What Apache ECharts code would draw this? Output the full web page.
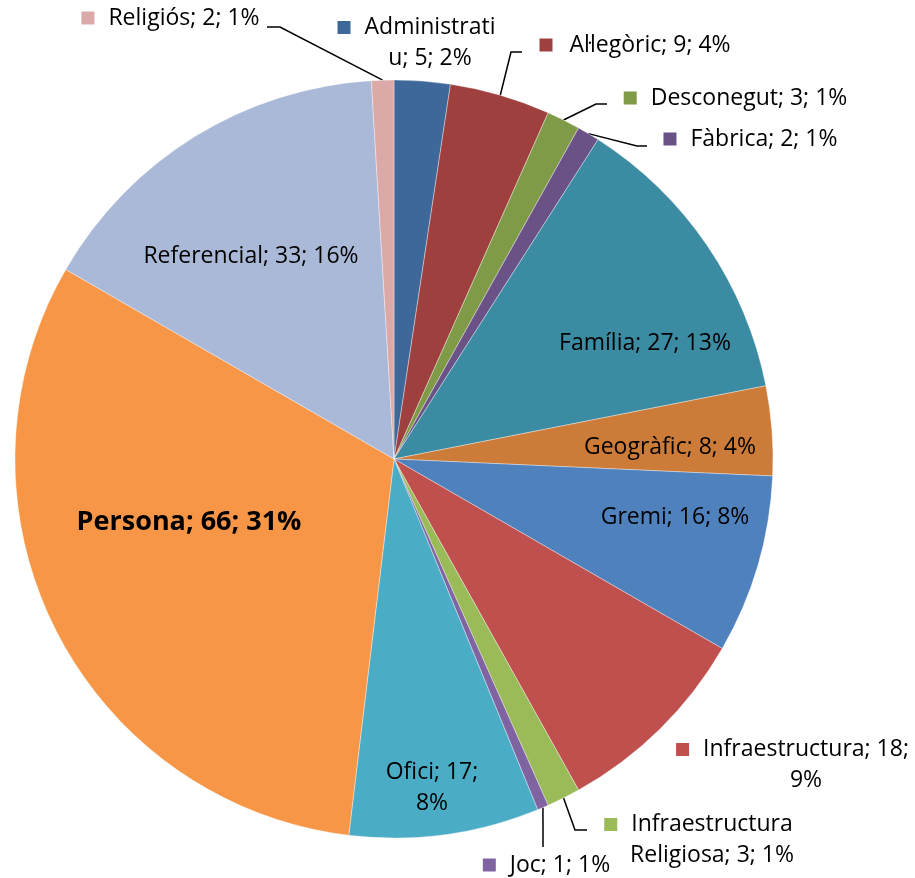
<!DOCTYPE html>
<html lang="ca">
<head>
    <meta charset="UTF-8">
    <title>Pie</title>
    <style>
        html, body { margin: 0; padding: 0; background: #fff; }
        #chart { width: 915px; height: 878px; }
    </style>
</head>
<body>
<div id="chart"></div>
<script src="https://cdn.jsdelivr.net/npm/echarts@6/dist/echarts.min.js"></script>
<script>
    // data, clockwise from 12 o'clock
    var names = ['Administratiu', 'Al·legòric', 'Desconegut', 'Fàbrica', 'Família', 'Geogràfic', 'Gremi',
        'Infraestructura', 'Infraestructura Religiosa', 'Joc', 'Ofici', 'Persona', 'Referencial', 'Religiós'];
    var values = [5, 9, 3, 2, 27, 8, 16, 18, 3, 1, 17, 66, 33, 2];
    var percents = [2, 4, 1, 1, 13, 4, 8, 9, 1, 1, 8, 31, 16, 1];
    // how each label text is split over lines (as in the picture)
    var labelLines = [
        ['Administrati', 'u; 5; 2%'],
        ['Al·legòric; 9; 4%'],
        ['Desconegut; 3; 1%'],
        ['Fàbrica; 2; 1%'],
        ['Família; 27; 13%'],
        ['Geogràfic; 8; 4%'],
        ['Gremi; 16; 8%'],
        ['Infraestructura; 18;', '9%'],
        ['Infraestructura', 'Religiosa; 3; 1%'],
        ['Joc; 1; 1%'],
        ['Ofici; 17;', '8%'],
        ['Persona; 66; 31%'],
        ['Referencial; 33; 16%'],
        ['Religiós; 2; 1%']
    ];

    var colors = ['#3e679a', '#9e413e', '#7f9b48', '#6a5186', '#3b8ba3', '#cc7b38', '#4f81bd',
        '#c0504d', '#9bbb59', '#8064a2', '#4bacc6', '#f79646', '#a9b9d7', '#dba9a8'];

    // label layout: [text centre x, text centre y, outside (with key)?, leader line elbow/end points]
    var labelPos = [
        [430, 43, true, null],
        [650, 45, true, [[511, 52], [522, 52]]],
        [749, 98, true, [[596, 104], [607, 104]]],
        [764, 139, true, [[637, 146], [647, 146]]],
        [645, 343, false, null],
        [670, 447, false, null],
        [675, 517, false, null],
        [806, 765, true, null],
        [712, 840, true, [[575, 830], [587, 830]]],
        [560, 865, true, [[543, 847], [543, 847]]],
        [432, 788, false, null],
        [189, 522, false, null],
        [251, 256, false, null],
        [184, 18, true, [[280, 27], [267, 27]]]
    ];

    var cx = 394, cy = 459, R = 379;
    var KEY = 13, GAP = 14;

    var rich = {
        pad: {width: KEY + GAP},
        gap: {width: GAP},
        b: {fontWeight: 'bold', fontSize: 27}
    };
    colors.forEach(function (c, i) {
        rich['k' + i] = {width: KEY, height: KEY, backgroundColor: c, verticalAlign: 'middle'};
    });

    var total = values.reduce(function (a, b) { return a + b; }, 0);
    function edgePoint(i) {
        var before = 0;
        for (var j = 0; j < i; j++) before += values[j];
        var a = (before + values[i] / 2) / total * 2 * Math.PI;
        return [cx + R * Math.sin(a), cy - R * Math.cos(a)];
    }

    var data = names.map(function (n, i) {
        var lp = labelPos[i];
        return {
            name: n,
            value: values[i],
            itemStyle: {color: colors[i]},
            labelLine: {show: !!lp[3]}
        };
    });

    var option = {
        animation: false,
        series: [{
            type: 'pie',
            center: [cx, cy],
            radius: [0, R],
            startAngle: 90,
            clockwise: true,
            avoidLabelOverlap: false,
            itemStyle: {borderColor: 'rgba(255,255,255,0.6)', borderWidth: 0.6},
            label: {
                show: true,
                position: 'outside',
                fontFamily: 'Open Sans',
                fontSize: 23,
                color: '#000',
                lineHeight: 31,
                align: 'center',
                rich: rich,
                formatter: function (p) {
                    var i = p.dataIndex;
                    var lines = labelLines[i].slice();
                    if (i === 11) return '{b|' + lines[0] + '}';
                    if (labelPos[i][2]) {
                        lines[0] = '{k' + i + '|}{gap|}' + lines[0] + '{pad|}';
                    }
                    return lines.join('\n');
                }
            },
            labelLine: {
                show: true,
                lineStyle: {color: '#000', width: 1.5}
            },
            labelLayout: function (params) {
                var i = params.dataIndex;
                var lp = labelPos[i];
                var res = {x: lp[0], y: lp[1], align: 'center', verticalAlign: 'middle'};
                if (lp[3]) {
                    res.labelLinePoints = [edgePoint(i), lp[3][0], lp[3][1]];
                }
                return res;
            },
            data: data
        }]
    };

    var chart = echarts.init(document.getElementById('chart'));
    chart.setOption(option);
</script>
</body>
</html>
